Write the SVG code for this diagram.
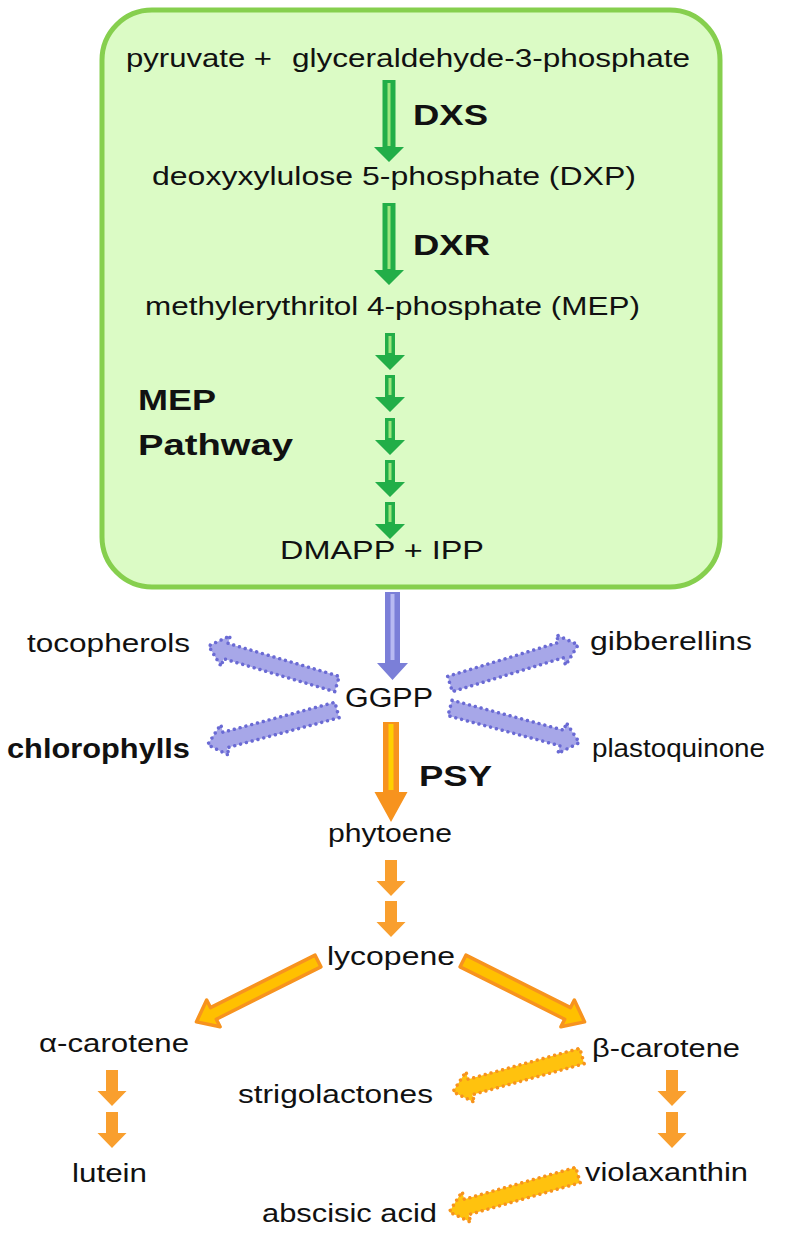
<svg xmlns="http://www.w3.org/2000/svg" width="800" height="1237" viewBox="0 0 800 1237">
<style>
text{font-family:"Liberation Sans",Arial,sans-serif;font-size:26px;fill:#111}
.b{font-weight:bold;font-size:30px}
.grn{fill:#22ae48}
.gst{stroke:#9ee57f;stroke-width:3}
.blu{fill:#7b7fd8}
.bst{stroke:#b8baf2;stroke-width:4}
.org{fill:#f7931e}
.ost{stroke:#ffd000;stroke-width:5}
.osm{fill:#f99f2e}
.dotb{fill:#a7a7e8;stroke:#6a6ad4;stroke-width:3.5;stroke-dasharray:0 6;stroke-linecap:round}
.doto{fill:#ffc20e;stroke:#f7931e;stroke-width:3.5;stroke-dasharray:0 6;stroke-linecap:round}
.dia{fill:#ffc000;stroke:#f7931e;stroke-width:3.5;stroke-linejoin:round}
</style>
<defs>
<path id="gs" d="M-5,0 H5 V22 H15 L0,37 L-15,22 H-5 Z"/>
<path id="os" d="M-6,0 H6 V21 H14.5 L0,36 L-14.5,21 H-6 Z"/>
<path id="da" d="M0,-8 H116 V-16 L134,0 L116,16 V8 H0 Z"/>
<path id="dg" d="M0,-6.5 H117 V-15 L136,0 L117,15 V6.5 H0 Z"/>
</defs>
<g id="mep-box">
<rect x="102" y="10" width="618" height="577" rx="50" fill="#dbfbc5" stroke="#86cf4e" stroke-width="5"/>
</g>
<g id="connectors">
<path class="grn" d="M382.5,80 H395.5 V147 H404 L389,162 L374,147 H382.5 Z"/>
<line class="gst" x1="389" y1="83" x2="389" y2="146"/>
<path class="grn" d="M382.5,203 H395.5 V270 H404 L389,285 L374,270 H382.5 Z"/>
<line class="gst" x1="389" y1="206" x2="389" y2="269"/>
<g class="grn">
<use href="#gs" x="390" y="333"/>
<use href="#gs" x="390" y="375"/>
<use href="#gs" x="390" y="418"/>
<use href="#gs" x="390" y="460"/>
<use href="#gs" x="390" y="502"/>
</g>
<g class="gst">
<line x1="390" y1="336" x2="390" y2="353"/>
<line x1="390" y1="378" x2="390" y2="395"/>
<line x1="390" y1="421" x2="390" y2="438"/>
<line x1="390" y1="463" x2="390" y2="480"/>
<line x1="390" y1="505" x2="390" y2="522"/>
</g>
<path class="blu" d="M385,592 H400 V663 H408 L392.5,680 L377,663 H385 Z"/>
<line class="bst" x1="392.5" y1="594" x2="392.5" y2="660"/>
<use class="dotb" href="#da" transform="translate(337,684) rotate(196.5)"/>
<use class="dotb" href="#da" transform="translate(337,710) rotate(165)"/>
<use class="dotb" href="#da" transform="translate(450,684) rotate(-17)"/>
<use class="dotb" href="#da" transform="translate(450,708) rotate(15)"/>
<path class="org" d="M383,722 H399 V792 H407.5 L391,822 L374.5,792 H383 Z"/>
<line class="ost" x1="391" y1="724" x2="391" y2="790"/>
<g class="osm">
<use href="#os" x="391" y="860"/>
<use href="#os" x="391" y="901"/>
<use href="#os" x="112" y="1070"/>
<use href="#os" x="112" y="1112"/>
<use href="#os" x="672" y="1070"/>
<use href="#os" x="672" y="1112"/>
</g>
<use class="dia" href="#dg" transform="translate(318,961) rotate(153.4)"/>
<use class="dia" href="#dg" transform="translate(463,961) rotate(26.6)"/>
<use class="doto" href="#da" transform="translate(582,1056) rotate(164.5)"/>
<use class="doto" href="#da" transform="translate(578,1175) rotate(164)"/>
</g>
<g id="n-pyruvate"><text x="126" y="67" textLength="146" lengthAdjust="spacingAndGlyphs">pyruvate +</text></g>
<g id="n-g3p"><text x="292" y="67" textLength="398" lengthAdjust="spacingAndGlyphs">glyceraldehyde-3-phosphate</text></g>
<g id="l-dxs"><text class="b" x="413" y="125" textLength="75" lengthAdjust="spacingAndGlyphs">DXS</text></g>
<g id="n-dxp"><text x="152" y="185" textLength="484" lengthAdjust="spacingAndGlyphs">deoxyxylulose 5-phosphate (DXP)</text></g>
<g id="l-dxr"><text class="b" x="413" y="255" textLength="77" lengthAdjust="spacingAndGlyphs">DXR</text></g>
<g id="n-mep"><text x="145" y="315" textLength="495" lengthAdjust="spacingAndGlyphs">methylerythritol 4-phosphate (MEP)</text></g>
<g id="l-pathway"><text class="b" x="138" y="410" textLength="78" lengthAdjust="spacingAndGlyphs">MEP</text><text class="b" x="138" y="455" textLength="155" lengthAdjust="spacingAndGlyphs">Pathway</text></g>
<g id="n-dmapp"><text x="280" y="559" textLength="204" lengthAdjust="spacingAndGlyphs">DMAPP + IPP</text></g>
<g id="n-ggpp"><text x="345" y="707" textLength="88" lengthAdjust="spacingAndGlyphs" style="font-size:27px">GGPP</text></g>
<g id="n-toco"><text x="27" y="652" textLength="163" lengthAdjust="spacingAndGlyphs">tocopherols</text></g>
<g id="n-chloro"><text class="b" x="7" y="758" textLength="183" lengthAdjust="spacingAndGlyphs" style="font-size:27px">chlorophylls</text></g>
<g id="n-gib"><text x="590" y="650" textLength="162" lengthAdjust="spacingAndGlyphs">gibberellins</text></g>
<g id="n-plasto"><text x="592" y="757" textLength="173" lengthAdjust="spacingAndGlyphs">plastoquinone</text></g>
<g id="l-psy"><text class="b" x="419" y="786" textLength="73" lengthAdjust="spacingAndGlyphs">PSY</text></g>
<g id="n-phytoene"><text x="328" y="842" textLength="124" lengthAdjust="spacingAndGlyphs">phytoene</text></g>
<g id="n-lycopene"><text x="327" y="965" textLength="128" lengthAdjust="spacingAndGlyphs">lycopene</text></g>
<g id="n-acar"><text x="39" y="1052" textLength="150" lengthAdjust="spacingAndGlyphs">α-carotene</text></g>
<g id="n-bcar"><text x="592" y="1057" textLength="148" lengthAdjust="spacingAndGlyphs">β-carotene</text></g>
<g id="n-strigo"><text x="238" y="1103" textLength="195" lengthAdjust="spacingAndGlyphs">strigolactones</text></g>
<g id="n-lutein"><text x="72" y="1182" textLength="75" lengthAdjust="spacingAndGlyphs">lutein</text></g>
<g id="n-viola"><text x="585" y="1181" textLength="163" lengthAdjust="spacingAndGlyphs">violaxanthin</text></g>
<g id="n-aba"><text x="262" y="1222" textLength="175" lengthAdjust="spacingAndGlyphs">abscisic acid</text></g>
</svg>
